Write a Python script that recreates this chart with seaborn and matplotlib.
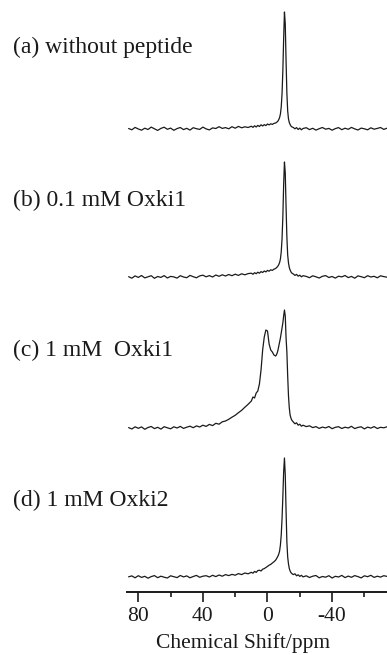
import numpy as np
import pandas as pd
import matplotlib
matplotlib.use("Agg")
import matplotlib.pyplot as plt
import seaborn as sns
from matplotlib.ticker import MultipleLocator

sns.set_style("white")
plt.rcParams['font.family'] = ['Liberation Serif', 'DejaVu Serif']

# Chemical shift grid (ppm)
ppm = [86, 84, 82, 80, 78, 76, 74, 72, 70, 68, 66, 64, 62, 60, 58, 56, 54, 52, 50, 48,
       46, 44, 42, 40, 38, 36, 34, 32, 30, 28, 26, 24, 22, 20, 18, 16, 14, 12,
       10, 9, 8, 7, 6, 5, 4, 3, 2, 1, 0, -1, -2, -3, -4, -5,
       -5.5, -6, -6.5, -7, -7.5, -8, -8.5, -9, -9.5, -10, -10.5, -11, -11.5, -12, -12.5,
       -13, -13.5, -14, -14.5, -15,
       -16, -17, -18, -19, -20, -21, -22,
       -24, -26, -28, -30, -32, -34, -36, -38, -40, -42, -44, -46, -48, -50, -52, -54,
       -56, -58, -60, -62, -64, -66, -68, -70, -72, -74]

spec_a = [0.5, -0.8, 1.6, 0.0, -1.2, 0.8, -0.5, 1.9, 0.2, -1.4, 0.6, 1.8, -0.3, 0.9, -1.3, 0.4,
          1.5, -0.6, 0.7, -1.1, 1.3, 0.3, -0.4, 1.9, 0.1, -0.9, 1.1, 0.5, 2.3, 0.6, 1.4, 0.2,
          2.3, 0.8, 2.6, 1.2, 2.2, 1.5,
          2.8, 1.6, 3.2, 2.0, 3.6, 2.5, 4.2, 3.0, 4.4, 3.4, 5.0, 4.1, 5.2, 4.6, 5.6, 6.0,
          6.5, 7.2, 8.0, 9.5, 11.5, 15, 22, 35, 58, 90, 117, 105, 68, 36, 18, 10, 6.5, 4.5, 3.0, 2.2,
          1.5, 0.2, 1.4, -0.5, 0.9, -0.8, 0.5,
          1.3, -0.6, 0.7, -1.1, 0.3, 1.5, -0.2, 0.6, -1.2, 0.4, 1.4, -0.7, 0.8, -0.3, 1.6, 0.1,
          -1.0, 0.9, 0.2, -0.8, 1.2, -0.2, 0.6, 1.5, -0.4, 0.8]

spec_b = [0.3, -1.2, 1.1, -0.4, 1.5, -0.9, 0.2, 1.3, -1.3, 0.5, -0.4, 1.4, -1.0, 0.6, 0.1, -1.1,
          1.3, 0.0, -0.7, 1.6, 0.3, -0.8, 1.1, 1.8, 0.2, 1.4, 0.0, 2.0, 0.7, 2.2, 1.0, 2.5,
          1.3, 2.8, 1.6, 3.2, 2.2, 3.4,
          3.8, 2.7, 4.3, 3.3, 4.8, 3.8, 5.4, 4.5, 6.0, 5.1, 6.6, 5.8, 7.2, 6.6, 7.8, 8.5,
          9.2, 10.0, 11.0, 12.5, 14.5, 18, 25, 38, 60, 92, 115, 104, 70, 40, 22, 14, 9.5, 7.0, 5.2, 4.0,
          3.0, 1.6, 2.6, 0.8, 1.8, 0.2, 1.3,
          0.6, -0.7, 1.2, 0.2, -1.0, 0.7, 1.4, -0.5, 0.5, -1.1, 0.8, 0.1, 1.5, -0.6, 0.6, -1.2,
          1.1, 0.3, -0.7, 1.3, 0.0, 0.7, -0.8, 1.2, 0.4, -0.2]

spec_c = [0.4, -1.0, 1.2, -0.3, 1.1, -1.3, 0.5, 1.5, -0.6, 0.7, -1.1, 1.3, 0.2, -0.8, 1.2, 0.0,
          1.6, -0.4, 0.8, 1.8, 0.3, 2.1, 1.0, 2.8, 1.6, 3.6, 2.4, 4.7, 3.8, 6.2, 7.0, 8.7,
          10.8, 12.7, 15.3, 17.7, 20.8, 23.7,
          27, 31, 30, 35, 37, 44, 58, 78, 91, 98, 97, 84, 78, 76, 73, 72,
          73, 75, 78, 82, 86, 90, 95, 100, 105, 112, 118, 112, 90, 76, 52, 32, 20, 13, 10, 8,
          6.0, 4.2, 5.2, 2.8, 3.8, 1.8, 2.8,
          1.4, 2.2, 0.4, 1.4, -0.4, 0.9, 0.1, 1.5, -0.7, 0.7, 1.3, -0.5, 0.8, 0.0, 1.7, -0.6,
          0.6, 1.2, -0.9, 0.9, -0.1, 1.4, -0.5, 0.7, 0.2, 1.2]

spec_d = [0.2, 1.1, -0.8, 1.3, -0.4, 0.7, -1.2, 0.4, 1.4, -0.7, 0.8, -0.2, -1.0, 1.2, 0.3, -0.6,
          1.5, 0.1, 1.1, -0.8, 0.5, 1.6, -0.3, 0.8, 1.3, 0.0, 1.7, 0.4, 2.0, 0.8, 2.4, 1.4,
          2.6, 1.8, 3.4, 2.4, 4.0, 3.2,
          4.7, 3.8, 5.6, 4.6, 6.4, 6.8, 6.0, 7.8, 8.4, 9.5, 10.6, 11.8, 12.6, 14.0, 15.2, 16.8,
          18, 19.5, 21, 23, 26, 32, 42, 58, 80, 105, 119, 102, 66, 35, 20, 13, 8.5, 6.0, 4.5, 3.5,
          2.4, 3.2, 1.2, 2.2, 0.6, 1.7, 0.1,
          1.2, -0.5, 0.8, 1.5, -0.8, 0.5, -0.2, 1.3, -1.0, 0.7, 0.0, 1.6, -0.6, 0.9, -0.3, 1.4,
          0.4, -0.9, 1.2, 0.3, 1.7, -0.4, 0.8, -0.1, 1.3, 0.6]

labels = ["(a) without peptide", "(b) 0.1 mM Oxki1", "(c) 1 mM  Oxki1", "(d) 1 mM Oxki2"]
x_ticks = [80, 40, 0, -40]
x_label = "Chemical Shift/ppm"

# layout (vertical stacking offsets, in plot units)
offsets = [463, 315, 164, 15]
label_y_px = [47, 200, 350, 500]

W, H = 387, 655
fig = plt.figure(figsize=(W / 100, H / 100), dpi=100)
ax = fig.add_axes([127 / W, 63 / H, 260 / W, 592 / H])

spectra = [spec_a, spec_b, spec_c, spec_d]
frames = []
for lab, s, off in zip(labels, spectra, offsets):
    frames.append(pd.DataFrame({"ppm": ppm,
                                "intensity": np.asarray(s, dtype=float) + off,
                                "sample": lab}))
df = pd.concat(frames, ignore_index=True)

sns.lineplot(data=df, x="ppm", y="intensity", hue="sample", units="sample",
             estimator=None, sort=False, palette=["#1a1a1a"] * 4,
             linewidth=0.9, legend=False, ax=ax)

ax.set_xlim(87, -74)
ax.set_ylim(0, 592)
ax.set_yticks([])
ax.set_ylabel("")
for side in ["top", "right", "left"]:
    ax.spines[side].set_visible(False)
ax.spines["bottom"].set_linewidth(1.4)
ax.spines["bottom"].set_color("#1a1a1a")
ax.set_xticks(x_ticks)
ax.set_xticklabels([str(t) for t in x_ticks])
ax.xaxis.set_minor_locator(MultipleLocator(20))
ax.tick_params(axis="x", which="major", direction="out", length=7, width=1.2,
               labelsize=15.5, pad=3.5, colors="#1a1a1a", bottom=True)
ax.tick_params(axis="x", which="minor", direction="out", length=3.5, width=1.2,
               colors="#1a1a1a", bottom=True)
ax.set_xlabel(x_label, fontsize=15.5, labelpad=2, color="#1a1a1a")
ax.xaxis.set_label_coords((243 - 127) / 260, -41 / 592)
ax.xaxis.label.set_va("top")

for lab, ypx in zip(labels, label_y_px):
    fig.text(13 / W, 1 - ypx / H, lab, fontsize=17, va="center", ha="left", color="#1a1a1a")

fig.savefig("out.png", dpi=100)
